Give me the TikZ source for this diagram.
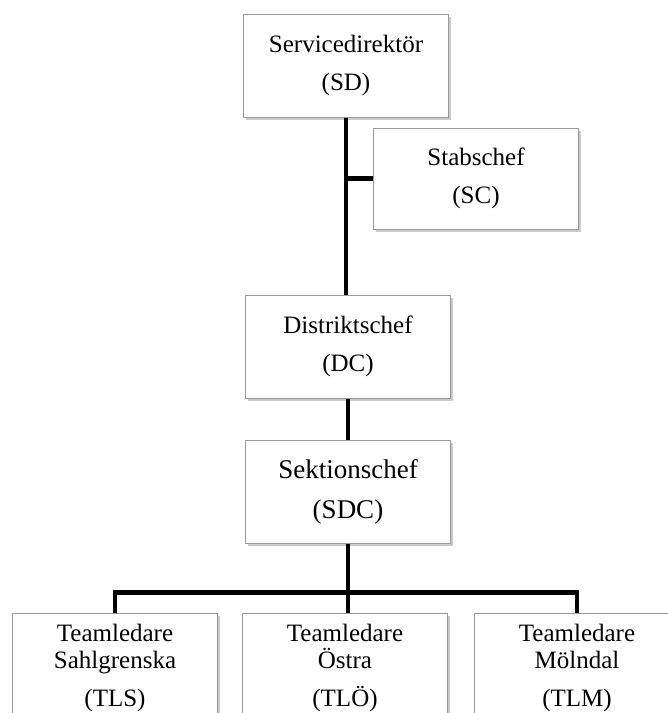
\documentclass[tikz,border=0pt]{standalone}
\usepackage{fontspec}
\setmainfont{Liberation Serif}
\usetikzlibrary{positioning, calc, shadows}
\tikzset{
  orgbox/.style={rectangle,draw=black!40,line width=.5pt,fill=white,inner sep=0pt,
    minimum width=102.5pt,minimum height=51.5pt,align=center,
    font=\fontsize{12.5}{19}\selectfont,
    drop shadow={shadow xshift=1.2pt,shadow yshift=-1.5pt,fill=black!35,opacity=.6}},
  orgbox_l/.style={orgbox,font=\fontsize{13.5}{20}\selectfont},
  teambox/.style={orgbox,minimum height=55pt,font=\fontsize{12.5}{13.5}\selectfont},
  link/.style={line width=2.25pt,black},
}
\begin{document}
\begin{tikzpicture}
	    \useasboundingbox (0,0) rectangle (334pt,-356.5pt);
	    \clip (0,0) rectangle (334pt,-356.5pt);
	    \node[orgbox] (SD) at (173pt,-32.75pt) {Servicedirektör\\(SD)};
	    \node[orgbox,below right=5pt and 13.5pt of SD.south,minimum height=50.5pt] (SC) {Stabschef\\(SC)};
	    \node[orgbox,below=88.5pt of SD,xshift=1pt] (DC) {Distriktschef\\(DC)};
	    \node[orgbox_l,below=20.5pt of DC] (SDC) {Sektionschef\\(SDC)};
	    \node[teambox,below=34.5pt of SDC,xshift=-1.5pt] (TLO) {Teamledare\\Östra\\[5.5pt](TLÖ)};
	    \node[teambox,left=12pt of TLO] (TLS) {Teamledare\\Sahlgrenska\\[5.5pt](TLS)};
	    \node[teambox,right=13pt of TLO] (TLM) {Teamledare\\Mölndal\\[5.5pt](TLM)};
	    \coordinate (bar) at ([yshift=10pt]SDC.south |- TLO.north);
	    \draw[link] (SD.south) -- (SD.south |- DC.north);
	    \draw[link] (SC.west) -- (SC.west -| SD.south);
	    \draw[link] (DC) -- (SDC);
	    \draw[link] (SDC.south) -- (SDC.south |- TLO.north);
	    \draw[link] (TLS.north) |- (bar) -| (TLM.north);
	\end{tikzpicture}
\end{document}
